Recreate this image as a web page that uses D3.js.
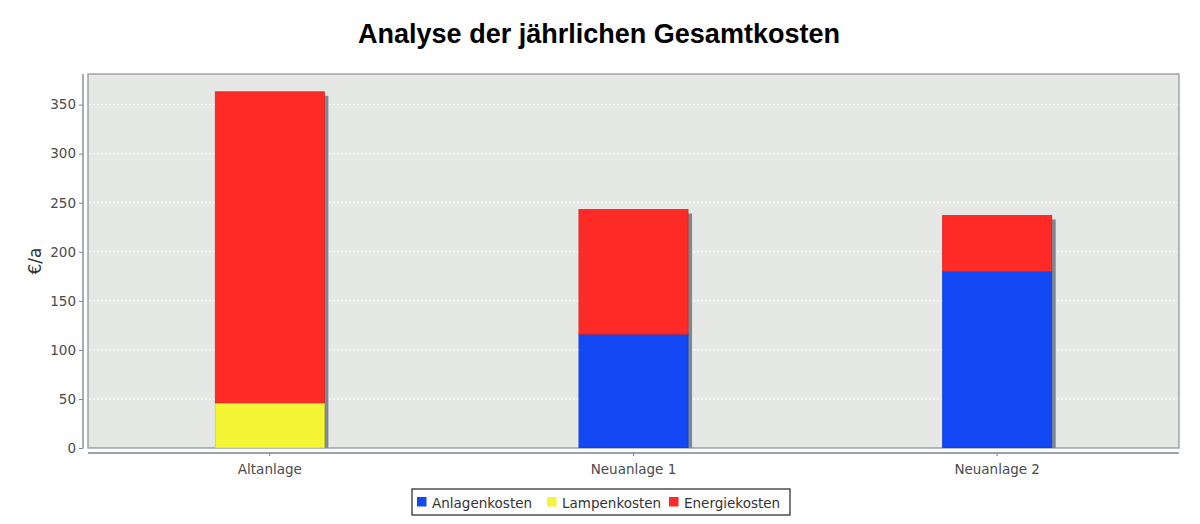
<!DOCTYPE html>
<html><head><meta charset="utf-8">
<script src="https://cdn.jsdelivr.net/npm/d3@7"></script>
<style>body{margin:0;background:#fff}svg{display:block}</style>
</head><body>
<svg id="c" width="1200" height="524"></svg>
<script>
const categories = ["Altanlage", "Neuanlage 1", "Neuanlage 2"];
const seriesNames = ["Anlagenkosten", "Lampenkosten", "Energiekosten"];
const anlagenkosten = [0, 116, 180];
const lampenkosten = [46, 0, 0];
const energiekosten = [317, 127, 57];
const yTicks = [0, 50, 100, 150, 200, 250, 300, 350];
const colors = ["#1349f2", "#f4f535", "#fd2a25"];
const titleText = "Analyse der jährlichen Gesamtkosten";
const yLabel = "€/a";

const svg = d3.select("#c");
const L = 88, R = 1179, T = 74, B = 448;

const rows = categories.map((c, i) => ({cat: c, Anlagenkosten: anlagenkosten[i], Lampenkosten: lampenkosten[i], Energiekosten: energiekosten[i]}));
const stack = d3.stack().keys(seriesNames)(rows);
const totals = rows.map(r => r.Anlagenkosten + r.Lampenkosten + r.Energiekosten);

const x = d3.scaleBand().domain(categories).range([L, R]).paddingInner(0.7).paddingOuter(0.35);
const y = d3.scaleLinear().domain([0, d3.max(totals) * 1.05]).range([B, T]);

// title
svg.append("text").attr("x", 599).attr("y", 43).attr("text-anchor", "middle")
  .attr("font-family", "Liberation Sans, Arial, sans-serif").attr("font-weight", "bold")
  .attr("font-size", 28).attr("fill", "#000")
  .text(titleText)
  .attr("textLength", 482).attr("lengthAdjust", "spacingAndGlyphs");

// plot background
svg.append("rect").attr("x", L).attr("y", T).attr("width", R - L).attr("height", B - T)
  .attr("fill", "#e5e8e5").attr("stroke", "#8a9099").attr("stroke-width", 1.2);

// grid
svg.append("g").selectAll("line").data(yTicks.filter(d => d > 0)).join("line")
  .attr("x1", L + 1).attr("x2", R - 1).attr("y1", d => y(d)).attr("y2", d => y(d))
  .attr("stroke", "#ffffff").attr("stroke-width", 1).attr("stroke-dasharray", "2,2");

// clip
svg.append("clipPath").attr("id", "pc").append("rect").attr("x", L).attr("y", T).attr("width", R - L).attr("height", B - T);
const plot = svg.append("g").attr("clip-path", "url(#pc)");

// shadows
plot.selectAll("rect.sh").data(rows).join("rect").attr("class", "sh")
  .attr("x", d => x(d.cat) + 4).attr("width", x.bandwidth())
  .attr("y", (d, i) => y(totals[i]) + 4).attr("height", (d, i) => B - y(totals[i]))
  .attr("fill", "#7f8792");

// bars
stack.forEach((s, k) => {
  plot.append("g").selectAll("rect").data(s.filter(d => d[1] - d[0] > 0)).join("rect")
    .attr("x", d => x(d.data.cat)).attr("width", x.bandwidth())
    .attr("y", d => y(d[1])).attr("height", d => y(d[0]) - y(d[1]))
    .attr("fill", colors[k]).attr("stroke", d3.color(colors[k]).darker(0.4)).attr("stroke-width", 0.8);
});

// y axis
const ya = svg.append("g").attr("transform", `translate(83,0)`)
  .call(d3.axisLeft(y).tickValues(yTicks).tickSize(4).tickPadding(3));
ya.select(".domain").attr("stroke", "#7d8590").attr("stroke-width", 1.3).attr("d", `M0,${T}V${B}`);
ya.selectAll(".tick line").attr("stroke", "#7d8590");
ya.selectAll("text").attr("font-family", "DejaVu Sans, sans-serif").attr("font-size", 13.5).attr("fill", "#4a4a4a");

// x axis
const xa = svg.append("g").attr("transform", `translate(0,453)`)
  .call(d3.axisBottom(x).tickSize(3).tickPadding(8));
xa.select(".domain").attr("stroke", "#7d8590").attr("stroke-width", 1.3).attr("d", `M${L},0H${R}`);
xa.selectAll(".tick line").attr("stroke", "#7d8590");
xa.selectAll("text").attr("font-family", "DejaVu Sans, sans-serif").attr("font-size", 13.5).attr("fill", "#4a4a4a");

// y label
svg.append("text").attr("transform", "translate(41,261) rotate(-90)").attr("text-anchor", "middle")
  .attr("font-family", "DejaVu Sans, sans-serif").attr("font-size", 17).attr("fill", "#333").text(yLabel);

// legend
const lg = svg.append("g");
lg.append("rect").attr("x", 412).attr("y", 489).attr("width", 378).attr("height", 26)
  .attr("fill", "#fff").attr("stroke", "#222").attr("stroke-width", 1.2);
const legX = [417, 547, 669];
seriesNames.forEach((n, k) => {
  lg.append("rect").attr("x", legX[k]).attr("y", 497).attr("width", 9.5).attr("height", 9.5).attr("fill", colors[k]);
  lg.append("text").attr("x", legX[k] + 15).attr("y", 507.5).attr("font-family", "DejaVu Sans, sans-serif")
    .attr("font-size", 13.5).attr("fill", "#333").text(n);
});
</script>
</body></html>
